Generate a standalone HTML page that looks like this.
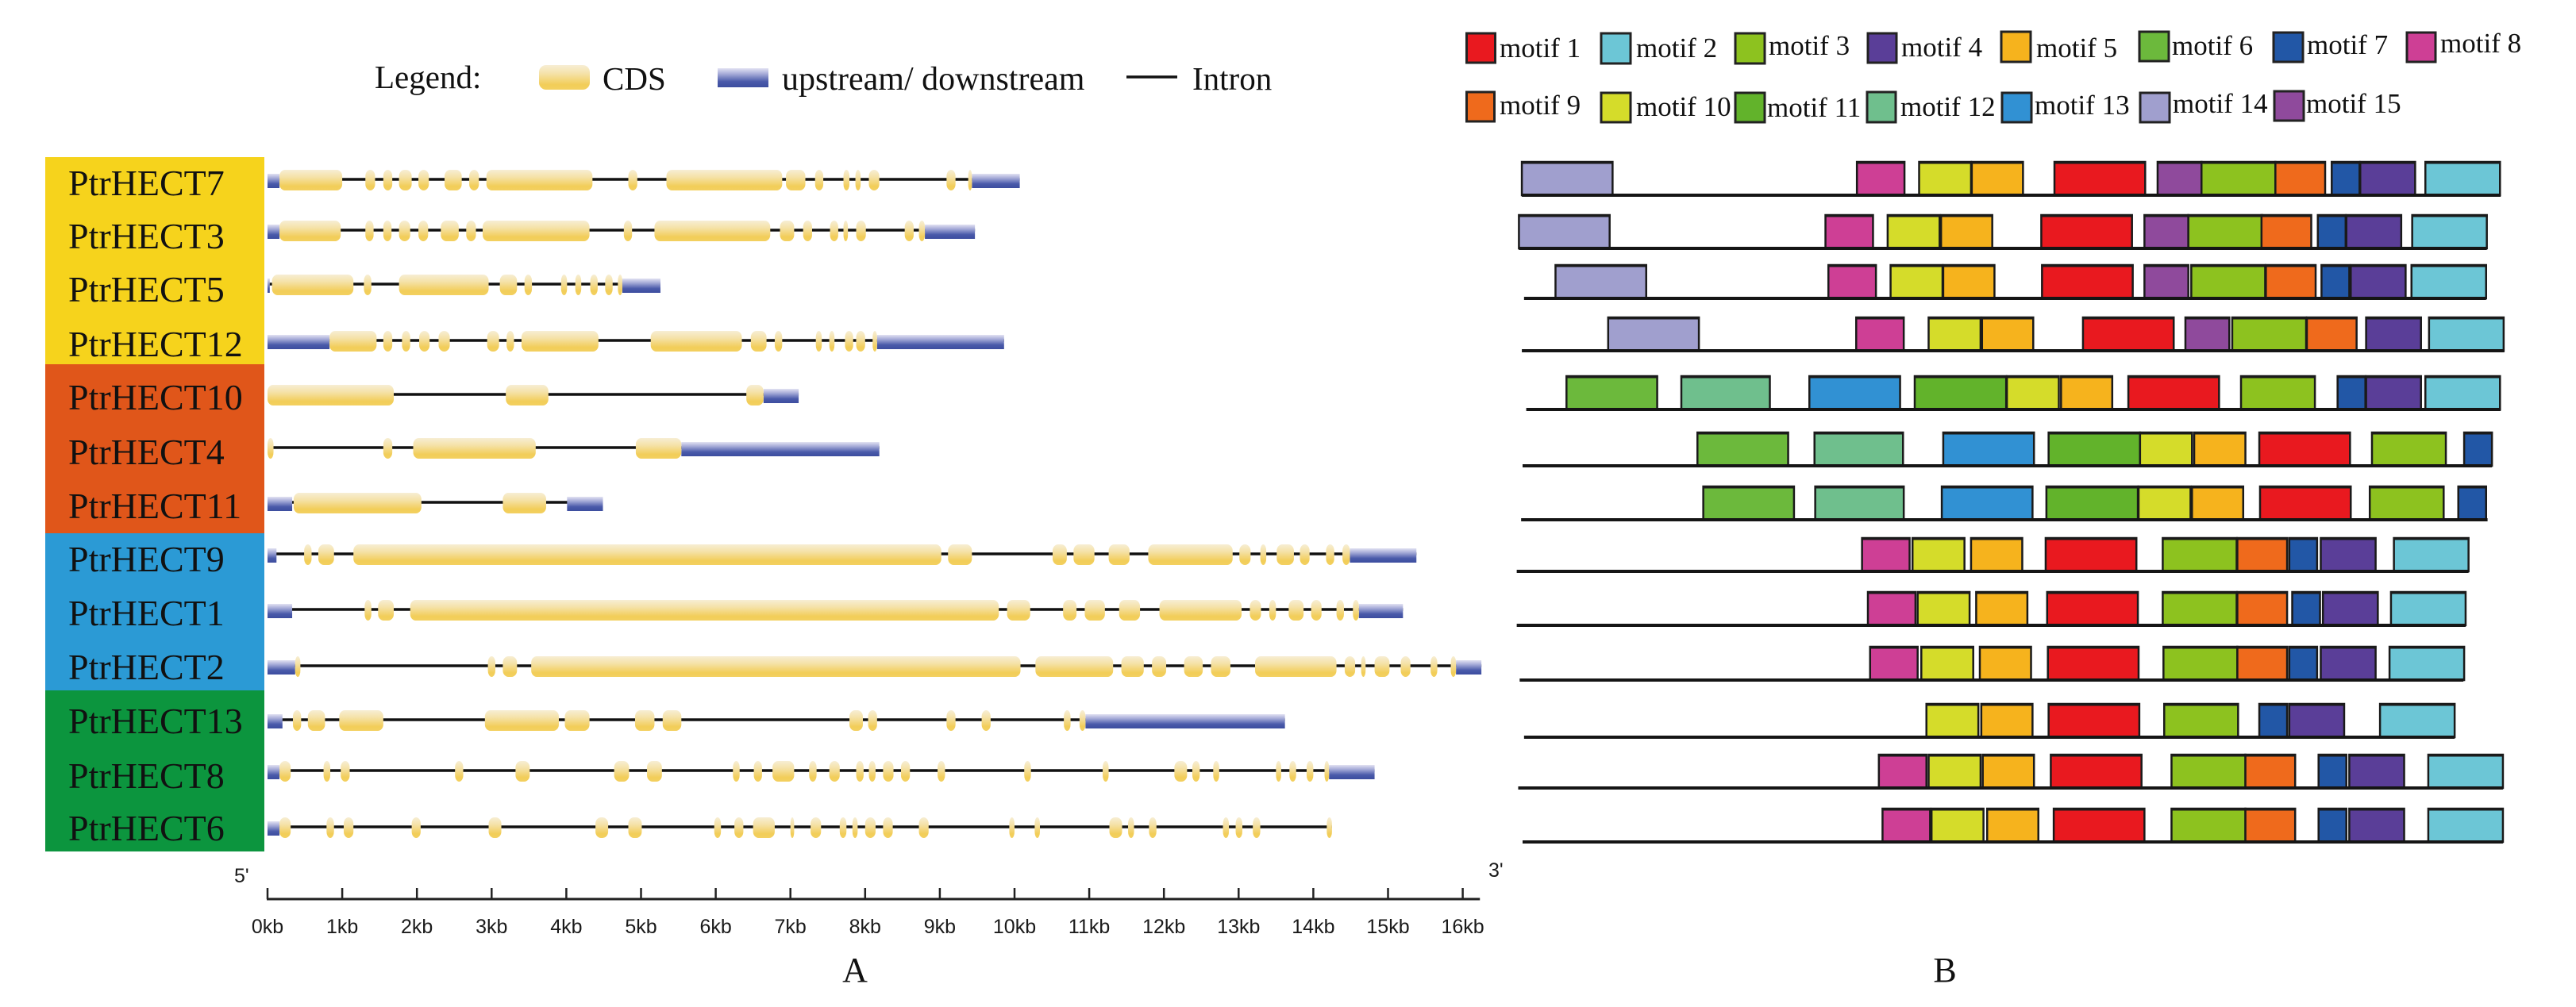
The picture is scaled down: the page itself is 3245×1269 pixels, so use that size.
<!DOCTYPE html>
<html lang="en">
<head>
<meta charset="utf-8">
<title>PtrHECT gene structure and motifs</title>
<style>
html,body{margin:0;padding:0;background:#fff;}
svg{display:block;}
.serif{font-family:"Liberation Serif",serif;fill:#111;}
.sans{font-family:"Liberation Sans",sans-serif;fill:#1a1a1a;}
</style>
</head>
<body>
<svg id="fig" xmlns="http://www.w3.org/2000/svg" width="3245" height="1269" viewBox="0 0 3245 1269">
  <defs>
    <linearGradient id="cdsGrad" x1="0" y1="0" x2="0" y2="1">
      <stop offset="0" stop-color="#f7eed4"/><stop offset="0.35" stop-color="#f5e2a8"/>
      <stop offset="0.8" stop-color="#f2cd58"/><stop offset="1" stop-color="#f3d060"/>
    </linearGradient>
    <linearGradient id="utrGrad" x1="0" y1="0" x2="0" y2="1">
      <stop offset="0" stop-color="#e2e2f2"/><stop offset="0.3" stop-color="#a6abd8"/>
      <stop offset="0.7" stop-color="#4a5aaa"/><stop offset="1" stop-color="#3c4d9f"/>
    </linearGradient>
  </defs>

  <rect x="57" y="198" width="276" height="261" fill="#f6d31c"/>
  <rect x="57" y="459" width="276" height="213" fill="#e0561a"/>
  <rect x="57" y="672" width="276" height="198" fill="#2b9ad5"/>
  <rect x="57" y="870" width="276" height="203" fill="#0c953e"/>

  <g>
    <text class="serif" x="472" y="111" font-size="41">Legend:</text>
    <rect x="679" y="82" width="64" height="31" rx="9" ry="9" fill="url(#cdsGrad)"/>
    <text class="serif" x="759" y="113" font-size="41">CDS</text>
    <rect x="904" y="86" width="64" height="24" fill="url(#utrGrad)"/>
    <text class="serif" x="985" y="113" font-size="42">upstream/ downstream</text>
    <line x1="1419" y1="97" x2="1483" y2="97" stroke="#111" stroke-width="3.5"/>
    <text class="serif" x="1502" y="113" font-size="41">Intron</text>
  </g>

  <g stroke="#222" stroke-width="3">
    <rect x="1847.5" y="42" width="36" height="37" fill="#e9191f"/>
    <rect x="2017" y="42" width="37" height="38" fill="#6cc6d6"/>
    <rect x="2186" y="42" width="37" height="38" fill="#8dc21f"/>
    <rect x="2353" y="42" width="36" height="37" fill="#5a3e98"/>
    <rect x="2521" y="40" width="37" height="38" fill="#f6b31d"/>
    <rect x="2695" y="40" width="37" height="37" fill="#6cb93c"/>
    <rect x="2864" y="41" width="37" height="37" fill="#2257a6"/>
    <rect x="3032" y="41" width="36" height="37" fill="#ce3f95"/>
    <rect x="1847.5" y="116" width="35" height="37" fill="#ef6a1c"/>
    <rect x="2017" y="117" width="37" height="37" fill="#d5dc2a"/>
    <rect x="2186" y="117" width="37" height="37" fill="#62b32b"/>
    <rect x="2352" y="116" width="36" height="38" fill="#6fbf8d"/>
    <rect x="2522" y="117" width="37" height="37" fill="#3191d3"/>
    <rect x="2696" y="117" width="37" height="37" fill="#a09fce"/>
    <rect x="2865" y="115" width="37" height="37" fill="#8f4a9c"/>
  </g>
  <g class="serif" font-size="35">
    <text x="1889" y="72">motif 1</text>
    <text x="2061" y="72">motif 2</text>
    <text x="2228" y="69">motif 3</text>
    <text x="2395" y="71">motif 4</text>
    <text x="2565" y="72">motif 5</text>
    <text x="2736" y="69">motif 6</text>
    <text x="2906" y="68">motif 7</text>
    <text x="3074" y="66">motif 8</text>
    <text x="1889" y="144">motif 9</text>
    <text x="2061" y="146">motif 10</text>
    <text x="2226" y="147">motif 11</text>
    <text x="2394" y="146">motif 12</text>
    <text x="2563" y="144">motif 13</text>
    <text x="2737" y="142">motif 14</text>
    <text x="2905" y="142">motif 15</text>
  </g>

  <g id="structures"></g>
  <g id="axis"></g>
  <g id="motifs"></g>

  <text class="sans" x="295" y="1112" font-size="25">5'</text>
  <text class="sans" x="1875" y="1105" font-size="25">3'</text>
  <text class="serif" x="1077" y="1237" font-size="44" text-anchor="middle">A</text>
  <text class="serif" x="2450" y="1237" font-size="44" text-anchor="middle">B</text>
</svg>

<script>
const geneNames = ["PtrHECT7","PtrHECT3","PtrHECT5","PtrHECT12","PtrHECT10","PtrHECT4","PtrHECT11","PtrHECT9","PtrHECT1","PtrHECT2","PtrHECT13","PtrHECT8","PtrHECT6"];
const axisTicksKb = [0,1,2,3,4,5,6,7,8,9,10,11,12,13,14,15,16];
const axisTickLabels = ["0kb","1kb","2kb","3kb","4kb","5kb","6kb","7kb","8kb","9kb","10kb","11kb","12kb","13kb","14kb","15kb","16kb"];
const axisEndKb = 16.23;

// Exon coordinates in kb
const hect7Cds = [[0.16,1.0],[1.31,1.44],[1.55,1.67],[1.76,1.93],[2.02,2.16],[2.37,2.6],[2.7,2.83],[2.93,4.35],[4.83,4.95],[5.34,6.89],[6.94,7.2],[7.33,7.44],[7.71,7.79],[7.87,7.94],[8.05,8.19],[9.09,9.21],[9.38,9.43]];
const hect7Utr = [[0,0.16],[9.43,10.07]];
const hect3Cds = [[0.16,0.98],[1.31,1.42],[1.55,1.66],[1.76,1.91],[2.02,2.15],[2.32,2.56],[2.66,2.79],[2.88,4.31],[4.77,4.88],[5.18,6.73],[6.86,7.05],[7.17,7.29],[7.53,7.64],[7.71,7.77],[7.88,8.01],[8.53,8.65],[8.72,8.8]];
const hect3Utr = [[0,0.16],[8.8,9.47]];
const hect5Cds = [[0.06,1.15],[1.29,1.39],[1.76,2.96],[3.11,3.34],[3.44,3.54],[3.93,4.01],[4.12,4.2],[4.32,4.42],[4.52,4.62],[4.69,4.75]];
const hect5Utr = [[0,0.03],[4.75,5.26]];
const hect12Cds = [[0.83,1.46],[1.55,1.67],[1.8,1.91],[2.03,2.17],[2.29,2.44],[2.94,3.1],[3.2,3.3],[3.4,4.43],[5.13,6.35],[6.47,6.68],[6.79,6.89],[7.34,7.42],[7.52,7.59],[7.73,7.84],[7.88,8.0],[8.1,8.16]];
const hect12Utr = [[0,0.83],[8.16,9.86]];
const hect10Cds = [[0,1.69],[3.19,3.76],[6.41,6.64]];
const hect10Utr = [[6.64,7.11]];
const hect4Cds = [[0,0.08],[1.55,1.67],[1.95,3.59],[4.93,5.54]];
const hect4Utr = [[5.54,8.19]];
const hect11Cds = [[0.35,2.06],[3.15,3.73]];
const hect11Utr = [[0,0.33],[4.01,4.49]];
const hect9Cds = [[0.49,0.59],[0.68,0.89],[1.15,9.02],[9.11,9.43],[10.51,10.7],[10.79,11.07],[11.26,11.54],[11.79,12.92],[13.01,13.16],[13.29,13.37],[13.51,13.74],[13.82,13.95],[14.17,14.28],[14.39,14.49]];
const hect9Utr = [[0,0.12],[14.49,15.38]];
const hect1Cds = [[1.3,1.39],[1.48,1.69],[1.91,9.79],[9.9,10.21],[10.65,10.83],[10.94,11.21],[11.4,11.68],[11.94,13.04],[13.15,13.3],[13.41,13.5],[13.67,13.87],[13.97,14.11],[14.31,14.41],[14.53,14.61]];
const hect1Utr = [[0,0.33],[14.61,15.2]];
const hect2Cds = [[0.37,0.44],[2.95,3.05],[3.15,3.34],[3.53,10.08],[10.28,11.32],[11.43,11.73],[11.84,12.03],[12.27,12.52],[12.63,12.89],[13.22,14.31],[14.42,14.56],[14.64,14.7],[14.82,15.02],[15.17,15.3],[15.57,15.66],[15.84,15.91]];
const hect2Utr = [[0,0.37],[15.91,16.25]];
const hect13Cds = [[0.34,0.45],[0.54,0.77],[0.96,1.55],[2.91,3.9],[3.98,4.31],[4.92,5.18],[5.29,5.54],[7.79,7.97],[8.04,8.16],[9.09,9.21],[9.56,9.68],[10.66,10.75],[10.87,10.95]];
const hect13Utr = [[0,0.2],[10.95,13.62]];
const hect8Cds = [[0.16,0.31],[0.75,0.84],[0.98,1.1],[2.51,2.62],[3.32,3.51],[4.64,4.84],[5.08,5.28],[6.23,6.32],[6.51,6.62],[6.76,7.05],[7.25,7.35],[7.52,7.66],[7.88,7.98],[8.05,8.14],[8.24,8.38],[8.48,8.6],[8.97,9.07],[10.13,10.22],[11.18,11.26],[12.14,12.31],[12.38,12.48],[12.66,12.74],[13.5,13.57],[13.68,13.77],[13.91,14.0],[14.15,14.21]];
const hect8Utr = [[0,0.16],[14.21,14.82]];
const hect6Cds = [[0.16,0.31],[0.79,0.89],[1.02,1.15],[1.93,2.05],[2.96,3.13],[4.39,4.56],[4.83,5.01],[5.98,6.07],[6.25,6.37],[6.5,6.79],[7.0,7.05],[7.27,7.41],[7.66,7.75],[7.83,7.9],[8.0,8.14],[8.24,8.37],[8.72,8.85],[9.93,10.0],[10.27,10.34],[11.27,11.44],[11.52,11.6],[11.8,11.9],[12.79,12.87],[12.96,13.05],[13.19,13.29],[14.18,14.25]];
const hect6Utr = [[0,0.16]];

const cdsByGene = [hect7Cds,hect3Cds,hect5Cds,hect12Cds,hect10Cds,hect4Cds,hect11Cds,hect9Cds,hect1Cds,hect2Cds,hect13Cds,hect8Cds,hect6Cds];
const utrByGene = [hect7Utr,hect3Utr,hect5Utr,hect12Utr,hect10Utr,hect4Utr,hect11Utr,hect9Utr,hect1Utr,hect2Utr,hect13Utr,hect8Utr,hect6Utr];

// Motif lengths (residues), index 0 = motif 1
const motifLengths = [49.6,40.8,40.4,30,28,49.6,15.2,26,27.2,28.4,50,48.4,49.6,49.6,24];
// Motif ids and their start positions (residues) per protein
const hect7Ids = [14,8,10,5,1,15,3,9,7,4,2];
const hect7Starts = [10.8,194,228,256.8,302,358.4,382.4,422.8,453.6,469.2,504.8];
const hect3Ids = [14,8,10,5,1,15,3,9,7,4,2];
const hect3Starts = [9.2,176.8,210.8,240,294.8,351.2,375.2,415.2,446,461.6,497.6];
const hect5Ids = [14,8,10,5,1,15,3,9,7,4,2];
const hect5Starts = [29.2,178.4,212.4,241.2,295.2,351.2,376.8,417.6,448,464,497.2];
const hect12Ids = [14,8,10,5,1,15,3,9,4,2];
const hect12Starts = [58,193.6,233.2,262.4,317.6,373.6,399.2,440,472.4,506.8];
const hect10Ids = [6,12,13,11,10,5,1,3,7,4,2];
const hect10Starts = [35.2,98,168,225.6,276,305.6,342.4,404,456.8,472.4,504.8];
const hect4Ids = [6,12,13,11,10,5,1,3,7];
const hect4Starts = [106.8,170.8,241.2,298.8,348.8,378.4,414,475.6,526];
const hect11Ids = [6,12,13,11,10,5,1,3,7];
const hect11Starts = [110,171.2,240.4,297.6,348,377.2,414.4,474.4,522.8];
const hect9Ids = [8,10,5,1,3,9,7,4,2];
const hect9Starts = [196.8,224.4,256.4,297.2,361.2,402,430.4,447.6,487.6];
const hect1Ids = [8,10,5,1,3,9,7,4,2];
const hect1Starts = [200,227.2,259.2,298,361.2,402,432,448.8,486];
const hect2Ids = [8,10,5,1,3,9,7,4,2];
const hect2Starts = [201.2,229.2,261.2,298.4,361.6,402,430.4,447.6,485.2];
const hect13Ids = [10,5,1,3,7,4,2];
const hect13Starts = [232,262,298.8,362,414,430.4,480];
const hect8Ids = [8,10,5,1,3,9,7,4,2];
const hect8Starts = [206,233.2,262.8,300,366,406.4,446.4,463.2,506.4];
const hect6Ids = [8,10,5,1,3,9,7,4,2];
const hect6Starts = [208,234.8,265.2,301.6,366,406.4,446.4,463.2,506.4];
const proteinFrom = [10.8,9.2,12,10.8,13.2,11.2,10.4,8,8,9.6,12,8.8,11.2];
const proteinTo = [546,538.4,538,548,546,541.2,538.8,528.4,526.8,525.6,520.8,547.2,547.2];

const motifIdsByGene = [hect7Ids,hect3Ids,hect5Ids,hect12Ids,hect10Ids,hect4Ids,hect11Ids,hect9Ids,hect1Ids,hect2Ids,hect13Ids,hect8Ids,hect6Ids];
const motifStartsByGene = [hect7Starts,hect3Starts,hect5Starts,hect12Starts,hect10Starts,hect4Starts,hect11Starts,hect9Starts,hect1Starts,hect2Starts,hect13Starts,hect8Starts,hect6Starts];

// Styling and layout (not data)
const motifColors = ["#e9191f","#6cc6d6","#8dc21f","#5a3e98","#f6b31d","#6cb93c","#2257a6","#ce3f95","#ef6a1c","#d5dc2a","#62b32b","#6fbf8d","#3191d3","#a09fce","#8f4a9c"];
const trackNudgeA = [0,-4,-4,-1,-1,-2,-1,-4,-2,1,1,-3,0];
const labelNudge = [0,-1,-2,-1,-2,-1,-1,-2,-2,-2,-2,-1,-3];
const trackNudgeB = [0,-1,-6,-8,-2,1,1,-2,-2,-1,3,-1,-1];

function xKb(kb){ return 337 + 94.1 * kb; }
function xAa(aa){ return 1892.2 + 2.304 * aa; }
function yTrackA(i){ return 226 + 68 * i + trackNudgeA[i]; }
function yLabel(i){ return 246 + 68 * i + labelNudge[i]; }
function yTrackB(i){ return 246 + 68 * i + trackNudgeB[i]; }

const NS = "http://www.w3.org/2000/svg";
function mk(parent, tag, attrs){
  const el = document.createElementNS(NS, tag);
  for (const k in attrs) el.setAttribute(k, attrs[k]);
  parent.appendChild(el);
  return el;
}

const structures = document.getElementById("structures");
geneNames.forEach(function(name, i){
  const label = mk(structures, "text", {x:86, y:yLabel(i), "font-size":46, "class":"serif"});
  
  
  label.textContent = name;

  const y = yTrackA(i);
  const all = cdsByGene[i].concat(utrByGene[i]);
  const from = Math.min.apply(null, all.map(function(s){ return s[0]; }));
  const to = Math.max.apply(null, all.map(function(s){ return s[1]; }));
  const intron = mk(structures, "line", {x1:xKb(from), y1:y, x2:xKb(to), y2:y, stroke:"#111", "stroke-width":3.5});
  
  

  utrByGene[i].forEach(function(s){
    const r = mk(structures, "rect", {x:xKb(s[0]), y:y-7, width:xKb(s[1])-xKb(s[0]), height:18, fill:"url(#utrGrad)"});
    
    
  });
  cdsByGene[i].forEach(function(s){
    const r = mk(structures, "rect", {x:xKb(s[0]), y:y-12, width:xKb(s[1])-xKb(s[0]), height:26, rx:7, ry:8, fill:"url(#cdsGrad)"});
    
    
  });
});

const axis = document.getElementById("axis");
const axisLine = mk(axis, "line", {x1:xKb(0)-1, y1:1133, x2:xKb(axisEndKb), y2:1133, stroke:"#222", "stroke-width":3});


axisTicksKb.forEach(function(kb, i){
  const t = mk(axis, "line", {x1:xKb(kb), y1:1119, x2:xKb(kb), y2:1133, stroke:"#222", "stroke-width":2.5});
  
  
  const l = mk(axis, "text", {x:xKb(kb), y:1176, "font-size":25, "text-anchor":"middle", "class":"sans"});
  
  
  l.textContent = axisTickLabels[i];
});

const motifs = document.getElementById("motifs");
geneNames.forEach(function(name, i){
  const y = yTrackB(i);
  const h = 42;
  motifIdsByGene[i].forEach(function(id, j){
    const start = motifStartsByGene[i][j];
    const x = xAa(start);
    const w = xAa(start + motifLengths[id-1]) - x;
    const box = mk(motifs, "rect", {x:x, y:y-h, width:w, height:h, fill:motifColors[id-1], stroke:"#1a1a1a", "stroke-width":2.5});
    
    
    const cap = mk(motifs, "rect", {x:x-1, y:y-h-1, width:w+2, height:3.5, fill:"#1a1a1a"});
    
    
  });
  const line = mk(motifs, "line", {x1:xAa(proteinFrom[i]), y1:y, x2:xAa(proteinTo[i]), y2:y, stroke:"#151515", "stroke-width":4});
  
  
});
</script>
</body>
</html>
